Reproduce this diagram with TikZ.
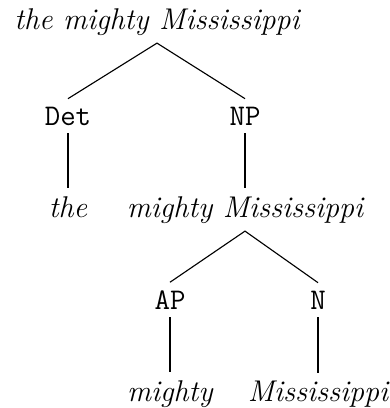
\documentclass[tikz,border=0pt]{standalone}
\begin{document}
\begin{tikzpicture}[x=0.4pt,y=-0.4pt,
  phrase/.style={font=\fontsize{12}{14}\selectfont\itshape, inner sep=3pt, anchor=base},
  cat/.style={font=\fontsize{12}{14}\selectfont\ttfamily, inner sep=3pt, anchor=base},
  branch/.style={line width=0.45pt}]
\useasboundingbox (0,0) rectangle (390,408);
% top level
\node[phrase] (s) at (157,29) {the mighty Mississippi};
\node[cat] (det) at (68,125) {Det};
\node[cat] (np) at (245,125) {NP};
\node[phrase] (the) at (68,217) {the};
\node[phrase] (nps) at (245,217) {mighty Mississippi};
% lower level
\node[cat] (ap) at (170,309) {AP};
\node[cat] (n) at (318,309) {N};
\node[phrase] (mighty) at (170,401) {mighty};
\node[phrase] (miss) at (318,401) {Mississippi};
% branches
\draw[branch] (det.north) -- (s.south) -- (np.north);
\draw[branch] (det.south) -- (the.north);
\draw[branch] (np.south) -- (nps.north);
\draw[branch] (ap.north) -- (nps.south) -- (n.north);
\draw[branch] (ap.south) -- (mighty.north);
\draw[branch] (n.south) -- (miss.north);
\end{tikzpicture}
\end{document}
